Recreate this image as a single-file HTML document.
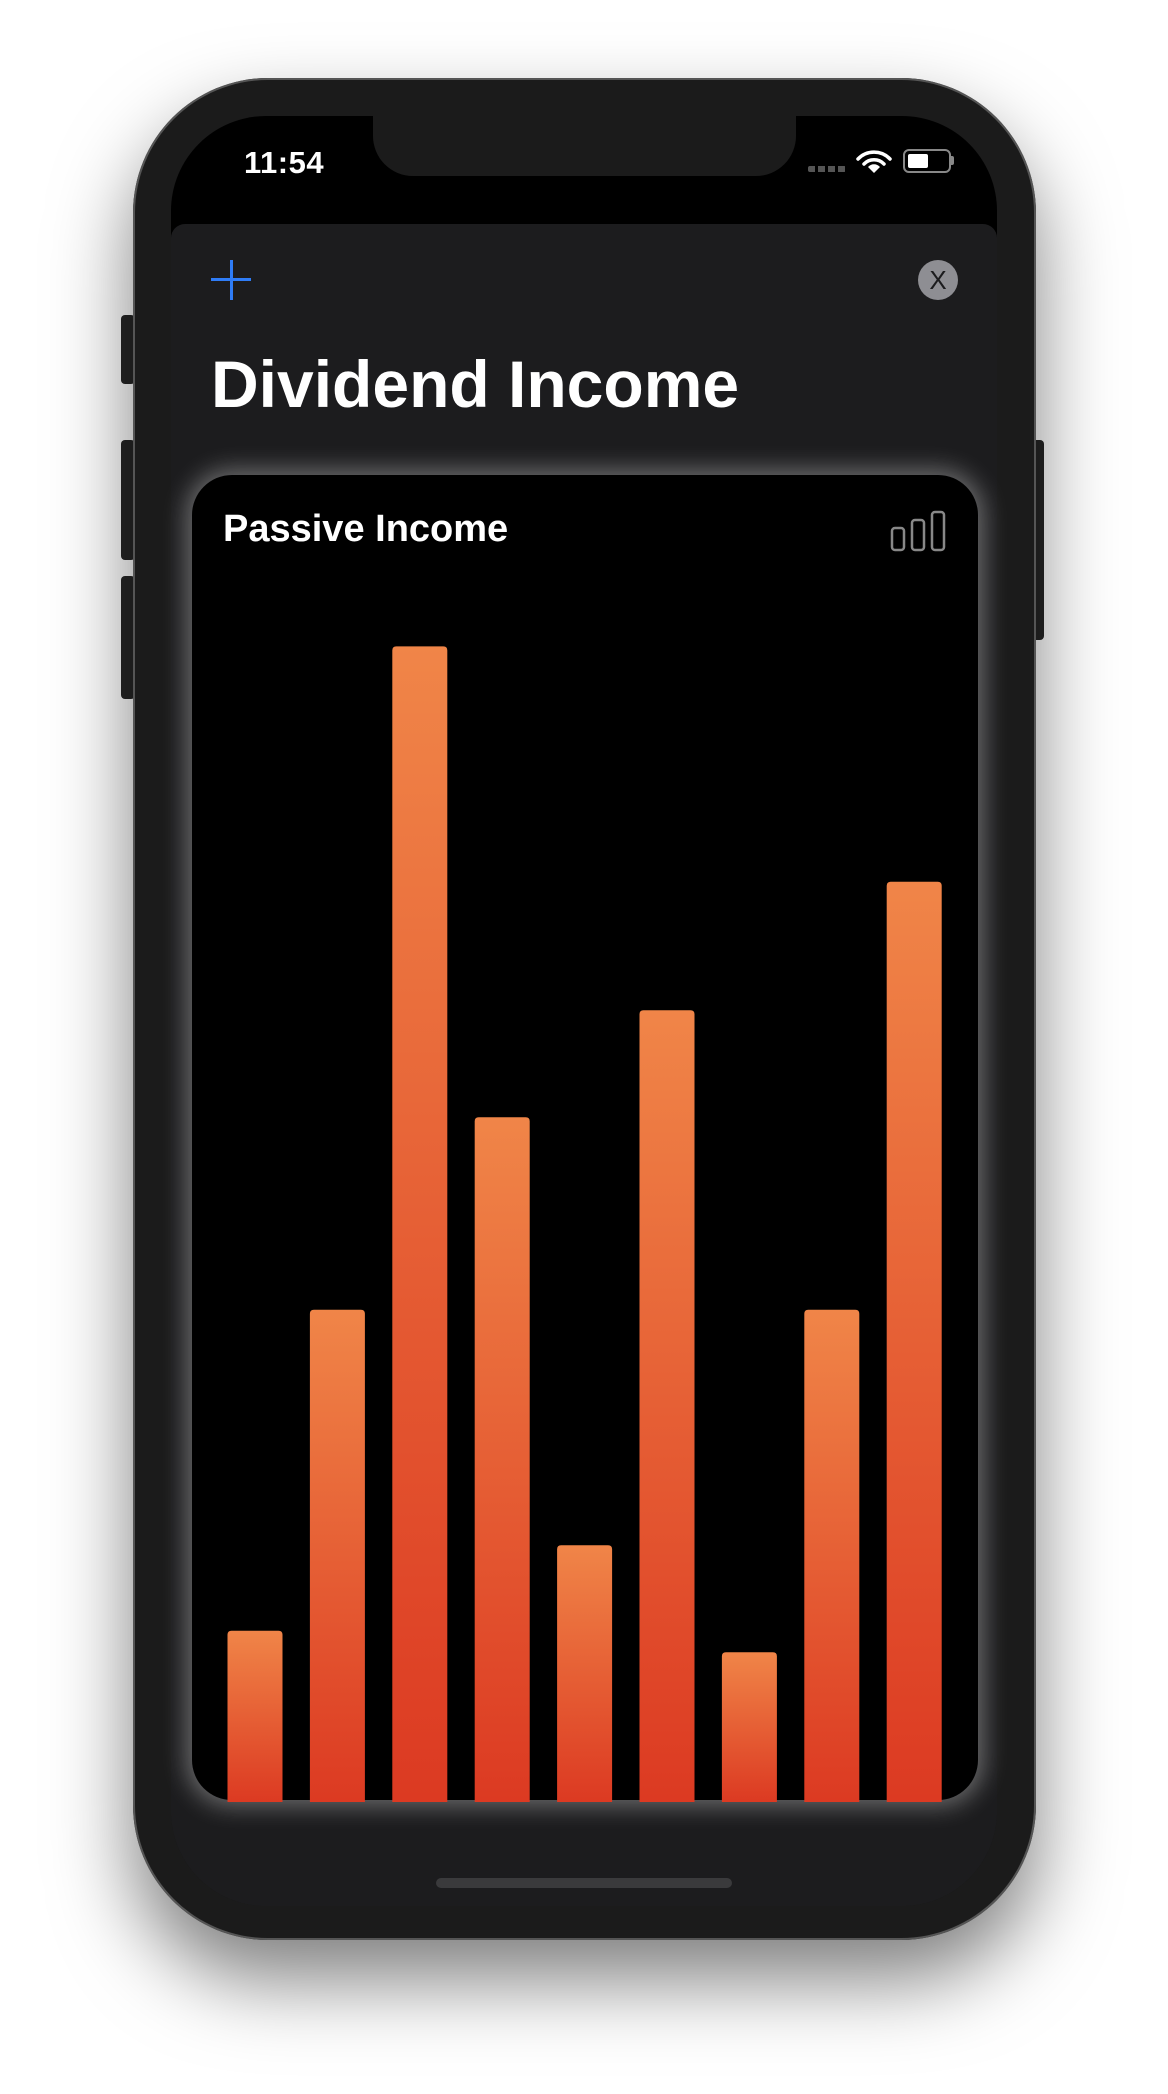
<!DOCTYPE html>
<html><head><meta charset="utf-8"><style>
html,body{margin:0;padding:0;background:#fff;width:1168px;height:2094px;overflow:hidden;font-family:"Liberation Sans",sans-serif}
.abs{position:absolute}
</style></head><body>
<div class="abs" style="left:121px;top:315px;width:14px;height:69px;background:#262626;border-radius:4px"></div>
<div class="abs" style="left:121px;top:440px;width:14px;height:120px;background:#262626;border-radius:4px"></div>
<div class="abs" style="left:121px;top:576px;width:14px;height:123px;background:#262626;border-radius:4px"></div>
<div class="abs" style="left:1032px;top:440px;width:12px;height:200px;background:#262626;border-radius:4px"></div>
<div class="abs" style="left:133px;top:78px;width:903px;height:1862px;background:#1b1b1b;border-radius:135px;box-shadow:inset 0 0 0 2px #555, 0 40px 80px rgba(0,0,0,0.5);"></div>
<div class="abs" style="left:171px;top:116px;width:826px;height:1790px;background:#1b1b1b;border-radius:95px;overflow:hidden">
  <div class="abs" style="left:0;top:0;width:826px;height:140px;background:#000"></div>
  <div class="abs" style="left:0;top:108px;width:826px;height:1700px;background:#1c1c1e;border-radius:14px 14px 0 0"></div>
</div>
<div class="abs" style="left:373px;top:110px;width:423px;height:66px;background:#1b1b1b;border-radius:0 0 40px 40px"></div>
<div class="abs" style="left:244px;top:145px;font-size:31px;font-weight:bold;color:#fff;letter-spacing:0.5px">11:54</div>
<div class="abs" style="left:808px;top:166px;width:38px;height:6px;background:repeating-linear-gradient(90deg,#555 0 7px,transparent 7px 10px);border-radius:2px"></div>
<svg class="abs" style="left:856px;top:150px" width="36" height="24" viewBox="0 0 36 24">
<path d="M2 9 A22 22 0 0 1 34 9" stroke="#fff" stroke-width="3.5" fill="none" stroke-linecap="round"/>
<path d="M8 14 A14 14 0 0 1 28 14" stroke="#fff" stroke-width="3.5" fill="none" stroke-linecap="round"/>
<path d="M18 23 L12 17 A8 8 0 0 1 24 17 Z" fill="#fff"/></svg>
<div class="abs" style="left:903px;top:149px;width:44px;height:20px;border:2px solid #888;border-radius:6px">
  <div class="abs" style="left:3px;top:3px;width:20px;height:14px;background:#fff;border-radius:2px"></div></div>
<div class="abs" style="left:951px;top:156px;width:3px;height:9px;background:#888;border-radius:0 2px 2px 0"></div>
<div class="abs" style="left:211px;top:260px;width:40px;height:40px">
  <div class="abs" style="left:0;top:18px;width:40px;height:3px;background:#2f7cf6"></div>
  <div class="abs" style="left:18.5px;top:0;width:3px;height:40px;background:#2f7cf6"></div></div>
<div class="abs" style="left:918px;top:260px;width:40px;height:40px;border-radius:50%;background:#8e8e93;color:#1c1c1e;font-size:26px;text-align:center;line-height:40px">X</div>
<div class="abs" style="left:211px;top:346px;font-size:66px;font-weight:bold;color:#fff;white-space:nowrap">Dividend Income</div>
<div class="abs" style="left:192px;top:475px;width:786px;height:1325px;background:#000;border-radius:40px;box-shadow:0 0 24px 6px rgba(255,255,255,0.35)"></div>
<div class="abs" style="left:223px;top:508px;font-size:38px;font-weight:bold;color:#fff;white-space:nowrap">Passive Income</div>
<svg class="abs" style="left:890px;top:510px" width="58" height="42">
<rect x="2" y="18" width="12" height="22" rx="3" fill="none" stroke="#888" stroke-width="2.5"/>
<rect x="22" y="10" width="12" height="30" rx="3" fill="none" stroke="#888" stroke-width="2.5"/>
<rect x="42" y="2" width="12" height="38" rx="3" fill="none" stroke="#888" stroke-width="2.5"/></svg>
<svg id="chart" class="abs" style="left:0;top:0" width="1168" height="2094">
<defs><linearGradient id="g" x1="0" y1="0" x2="0" y2="1"><stop offset="0" stop-color="#f08548"/><stop offset="1" stop-color="#dc3a22"/></linearGradient></defs>
</svg>
<div class="abs" style="left:436px;top:1878px;width:296px;height:10px;background:#3a3a3c;border-radius:5px"></div>
<script>
const categories=["1","2","3","4","5","6","7","8","9"];
const values=[8,23,54,32,12,37,7,23,43];
const baseY=1802, unitPx=21.4, x0=227.5, pitch=82.4, barW=55;
function xScale(i){return x0+i*pitch;}
function yScale(v){return baseY-v*unitPx;}
const svg=document.getElementById('chart');
values.forEach((v,i)=>{
  const y=yScale(v),h=baseY-y;
  const p=document.createElementNS('http://www.w3.org/2000/svg','path');
  const x=xScale(i),r=4;
  p.setAttribute('d',`M${x},${baseY} V${y+r} Q${x},${y} ${x+r},${y} H${x+barW-r} Q${x+barW},${y} ${x+barW},${y+r} V${baseY} Z`);
  p.setAttribute('fill','url(#g)');
  
  
  svg.appendChild(p);
});
</script>
</body></html>
